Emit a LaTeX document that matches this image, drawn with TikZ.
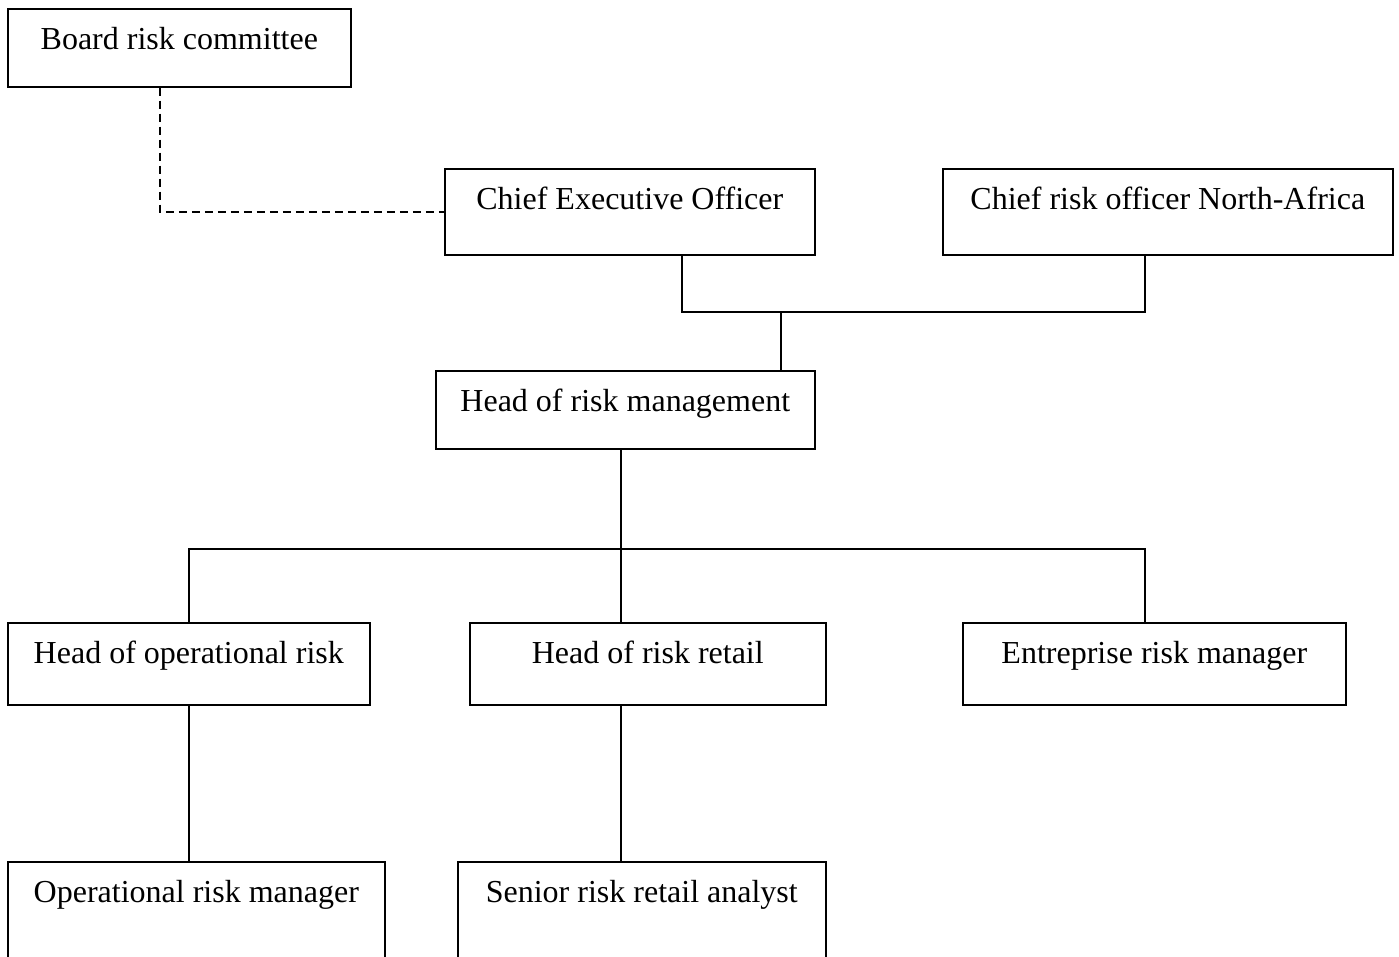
\documentclass[tikz,border=0pt]{standalone}
\usepackage{fontspec}
\setmainfont{Liberation Serif}
\usetikzlibrary{calc}
\begin{document}
\begin{tikzpicture}[x=1pt,y=-1pt,
  box/.style={draw=black, line width=1.6pt, anchor=north west, inner sep=0pt,
    align=center, font=\fontsize{32}{38}\selectfont, text height=41pt},
  link/.style={draw=black, line width=1.6pt},
  dlink/.style={draw=black, line width=1.6pt, dash pattern=on 8pt off 5pt}]
\useasboundingbox (0,0) rectangle (1399,956);
\clip (0,0) rectangle (1399,956);
\node[box, minimum width=343pt, text depth=37pt] (brc) at (7,8) {Board risk committee};
\node[box, minimum width=370pt, text depth=45pt] (ceo) at (444,168) {Chief Executive Officer};
\node[box, minimum width=450pt, text depth=45pt] (cro) at (942,168) {Chief risk officer North-Africa};
\node[box, minimum width=379pt, text depth=37pt] (hrm) at (435,370) {Head of risk management};
\node[box, minimum width=362pt, text depth=41pt] (hop) at (7,622) {Head of operational risk};
\node[box, minimum width=356pt, text depth=41pt] (hrr) at (469,622) {Head of risk retail};
\node[box, minimum width=383pt, text depth=41pt] (erm) at (962,622) {Entreprise risk manager};
\node[box, minimum width=377pt, text depth=80pt] (orm) at (7,861) {Operational risk manager};
\node[box, minimum width=368pt, text depth=80pt] (srra) at (457,861) {Senior risk retail analyst};
% dashed link
\draw[dlink] ($(brc.south west)+(153,0)$) |- (ceo.west);
% top junction
\coordinate (jt) at (781,312);
\draw[link] ($(ceo.south west)+(238,0)$) |- (jt);
\draw[link] ($(cro.south west)+(203,0)$) |- (jt);
\draw[link] (jt) -- (jt |- hrm.north);
% lower junction
\coordinate (jb) at (621,549);
\draw[link] ($(hrm.south west)+(186,0)$) -- (jb);
\draw[link] (jb) -| (hop.north);
\draw[link] (jb) -| ($(erm.north west)+(183,0)$);
\draw[link] (jb) -- (jb |- hrr.north);
\draw[link] (hop.south) -- (hop.south |- orm.north);
\coordinate (hs) at ($(hrr.south west)+(152,0)$);
\draw[link] (hs) -- (hs |- srra.north);
\end{tikzpicture}
\end{document}
